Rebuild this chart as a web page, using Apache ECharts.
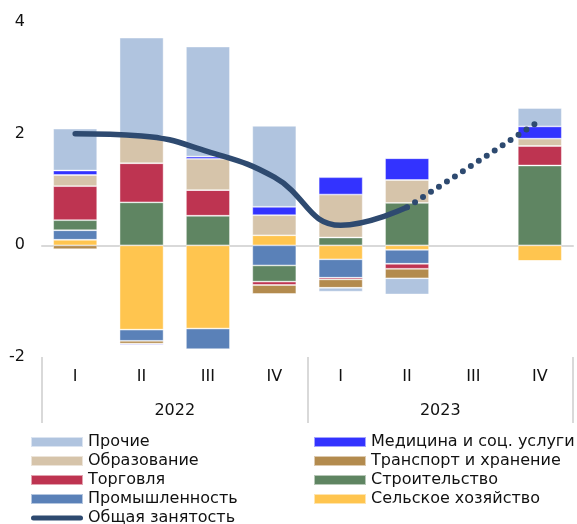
<!DOCTYPE html>
<html lang="ru">
<head>
  <meta charset="UTF-8">
  <title>Занятость</title>
  <script src="https://cdn.jsdelivr.net/npm/echarts@6/dist/echarts.min.js"></script>
  <style>
    html, body { margin: 0; padding: 0; background: #fff; }
    #main { width: 577px; height: 524px; }
  </style>
</head>
<body>
  <div id="main"></div>
  <script>
    // категории
    var quarters = ['I', 'II', 'III', 'IV', 'I', 'II', 'III', 'IV'];
    var years = ['2022', '2023'];
    var yTicks = [-2, 0, 2, 4];

    // вклад отраслей, п.п.
    var selskoe = [0.10, -1.51, -1.49, 0.18, -0.25, -0.08, '-', -0.28];
    var prom = [0.17, -0.20, -0.37, -0.36, -0.33, -0.25, '-', 0];
    var stroi = [0.18, 0.77, 0.53, -0.29, 0.14, 0.76, '-', 1.43];
    var torg = [0.61, 0.70, 0.46, -0.06, -0.03, -0.09, '-', 0.35];
    var transp = [-0.07, -0.05, 0, -0.16, -0.15, -0.17, '-', 0];
    var obraz = [0.20, 0.49, 0.56, 0.36, 0.77, 0.41, '-', 0.13];
    var medic = [0.08, -0.02, 0.04, 0.15, 0.31, 0.39, '-', 0.22];
    var prochie = [0.75, 1.76, 1.97, 1.45, -0.07, -0.29, '-', 0.33];

    // общая занятость: факт и прогноз (пунктир)
    var total = [2.00, 1.96, 1.68, 1.22, 0.36, 0.68, '-', '-'];
    var totalForecast = ['-', '-', '-', '-', '-', 0.68, 1.45, 2.23];

    var font = 'DejaVu Sans, Arial, sans-serif';
    var legendText = { fontSize: 16, color: '#111', lineHeight: 14, fontFamily: font };
    // толстая линия со скруглёнными концами для легенды
    var lineIcon = 'path://M0,0M52,10M2.5,2.5L49.5,2.5A2.5,2.5,0,0,1,49.5,7.5L2.5,7.5A2.5,2.5,0,0,1,2.5,2.5Z';

    function bar(name, data, color) {
      return {
        name: name,
        type: 'bar',
        stack: 'all',
        barWidth: 44,
        data: data,
        itemStyle: { color: color, borderColor: 'rgba(255,255,255,0.55)', borderWidth: 0.8 }
      };
    }

    function rectItem(name) {
      return { name: name, icon: 'rect' };
    }

    var myChart = echarts.init(document.getElementById('main'));
    var option = {
      animation: false,
      textStyle: { fontFamily: font },
      grid: { left: 42, right: 4, top: 22, bottom: 167 },
      legend: [{
        orient: 'vertical',
        left: 30,
        top: 434,
        height: 200,
        padding: 0,
        itemWidth: 52,
        itemHeight: 10,
        itemGap: 3,
        textStyle: legendText,
        data: [rectItem('Прочие'), rectItem('Образование'), rectItem('Торговля'),
          rectItem('Промышленность'),
          { name: 'Общая занятость', icon: lineIcon, itemStyle: { color: '#2e4a70', borderWidth: 0 } }]
      }, {
        orient: 'vertical',
        left: 313,
        top: 434,
        height: 200,
        padding: 0,
        itemWidth: 52,
        itemHeight: 10,
        itemGap: 3,
        textStyle: legendText,
        data: [rectItem('Медицина и соц. услуги'), rectItem('Транспорт и хранение'),
          rectItem('Строительство'), rectItem('Сельское хозяйство')]
      }],
      xAxis: [{
        type: 'category',
        data: quarters,
        axisLine: { onZero: true, lineStyle: { color: '#d9d9d9', width: 2 } },
        axisTick: { show: false },
        axisLabel: { show: false }
      }, {
        type: 'category',
        data: quarters,
        position: 'bottom',
        axisLine: { show: false, onZero: false },
        axisTick: { show: false },
        axisLabel: { interval: 0, margin: 12, fontSize: 16, color: '#111' }
      }, {
        type: 'category',
        data: years,
        position: 'bottom',
        axisLine: { show: false, onZero: false },
        axisTick: { show: true, interval: 0, length: 66, lineStyle: { color: '#d9d9d9', width: 2 } },
        axisLabel: { interval: 0, margin: 46, fontSize: 16, color: '#111' }
      }],
      yAxis: {
        type: 'value',
        min: yTicks[0],
        max: yTicks[yTicks.length - 1],
        interval: 2,
        axisLine: { show: false },
        axisTick: { show: false },
        splitLine: { show: false },
        axisLabel: { fontSize: 16, color: '#111', margin: 17 }
      },
      series: [
        bar('Сельское хозяйство', selskoe, '#ffc54f'),
        bar('Промышленность', prom, '#5a81b8'),
        bar('Строительство', stroi, '#5f8562'),
        bar('Торговля', torg, '#be3451'),
        bar('Транспорт и хранение', transp, '#b38b4e'),
        bar('Образование', obraz, '#d6c4aa'),
        bar('Медицина и соц. услуги', medic, '#3333ff'),
        bar('Прочие', prochie, '#b0c4df'),
        {
          name: 'Общая занятость',
          type: 'line',
          data: total,
          smooth: 0.45,
          symbol: 'none',
          z: 5,
          lineStyle: { color: '#2e4a70', width: 5.5, cap: 'round' },
          itemStyle: { color: '#2e4a70' }
        },
        {
          name: 'Прогноз',
          type: 'line',
          data: totalForecast,
          symbol: 'none',
          z: 5,
          lineStyle: { color: '#2e4a70', width: 6, type: [0, 9.5], cap: 'round' }
        }
      ]
    };
    myChart.setOption(option);
  </script>
</body>
</html>
